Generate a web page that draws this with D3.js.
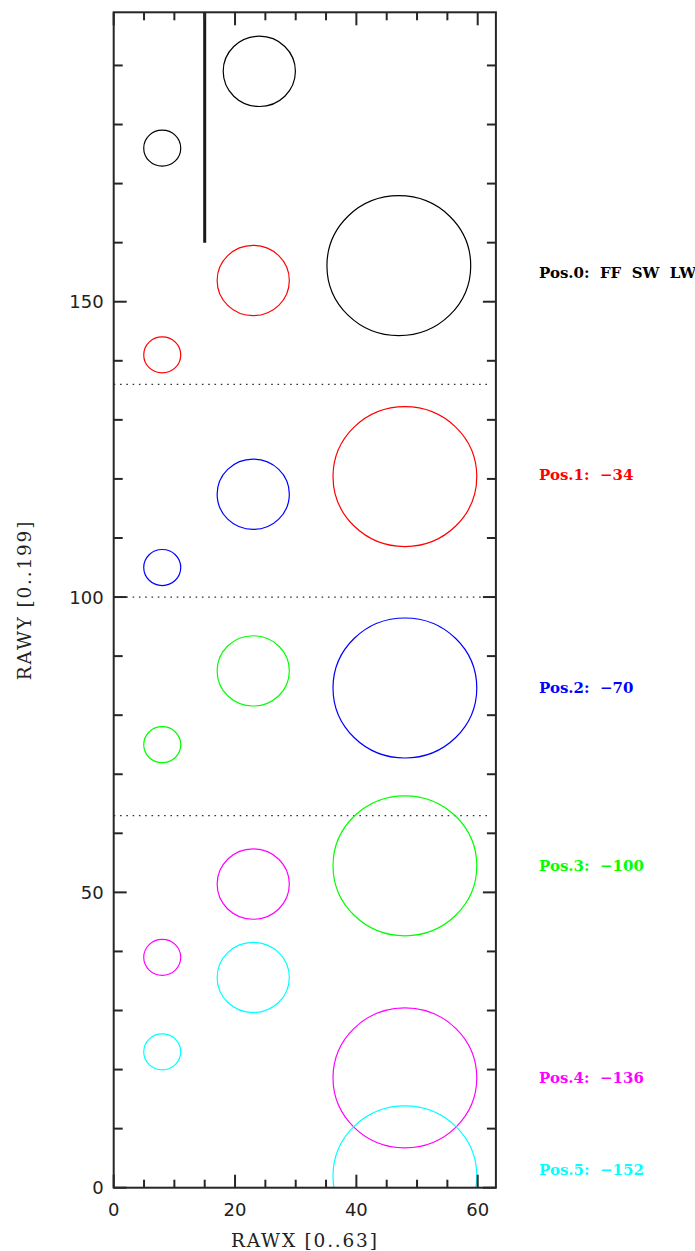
<!DOCTYPE html>
<html>
<head>
<meta charset="utf-8">
<script src="https://cdn.jsdelivr.net/npm/d3@7"></script>
<style>
  html, body { margin: 0; padding: 0; background: #fff; }
  svg { display: block; }
</style>
</head>
<body>
<svg id="chart" width="695" height="1251"></svg>
<script>
// Window positions: label, colour, and window centres (RAWX, RAWY) for each filter set
const posLabels   = ["Pos.0:  FF  SW  LW", "Pos.1:  \u221234", "Pos.2:  \u221270", "Pos.3:  \u2212100", "Pos.4:  \u2212136", "Pos.5:  \u2212152"];
const posColors   = ["#000000", "#ff0000", "#0000ff", "#00ff00", "#ff00ff", "#00ffff"];
const labelY      = [155, 120.8, 84.7, 54.6, 18.7, 3.0];

// Small window (FF)
const smallX = [8, 8, 8, 8, 8, 8];
const smallY = [176, 141, 105, 75, 39, 23];
// Medium window (SW)
const medX = [24, 23, 23, 23, 23, 23];
const medY = [189, 153.6, 117.4, 87.5, 51.4, 35.6];
// Large window (LW)
const largeX = [47, 48, 48, 48, 48, 48];
const largeY = [156.1, 120.4, 84.6, 54.5, 18.6, 2.0];
// Window radii in pixel units
const radii = [3.05, 5.95, 11.85];

// Horizontal separators and the readout marker line
const dividerY = [136, 100, 63];
const markerX = 15, markerY0 = 160, markerY1 = 199;

const xTicksMajor = [0, 20, 40, 60];
const yTicksMajor = [0, 50, 100, 150];

const svg = d3.select("#chart");
const L = 113.7, R = 495.9, T = 12.3, B = 1187.7;
const x = d3.scaleLinear().domain([0, 63]).range([L, R]);
const y = d3.scaleLinear().domain([0, 199]).range([B, T]);

const axisColor = "#262626";
const numFont = "'DejaVu Sans', sans-serif";
const textFont = "'DejaVu Serif', serif";

// clip for plot contents
svg.append("defs").append("clipPath").attr("id", "plotclip")
  .append("rect").attr("x", L).attr("y", T).attr("width", R - L).attr("height", B - T);

const plot = svg.append("g").attr("clip-path", "url(#plotclip)");

// dotted dividers
plot.selectAll("line.div").data(dividerY).enter().append("line")
  .attr("x1", L).attr("x2", R - 6)
  .attr("y1", d => y(d)).attr("y2", d => y(d))
  .attr("stroke", "#333").attr("stroke-width", 1.3)
  .attr("stroke-dasharray", "1.6,4.7");

// marker line
plot.append("line")
  .attr("x1", x(markerX)).attr("x2", x(markerX))
  .attr("y1", y(markerY1)).attr("y2", y(markerY0))
  .attr("stroke", "#1a1a1a").attr("stroke-width", 3);

// windows
const sets = [[smallX, smallY, radii[0]], [medX, medY, radii[1]], [largeX, largeY, radii[2]]];
sets.forEach(([xs, ys, r]) => {
  plot.selectAll(null).data(d3.range(xs.length)).enter().append("ellipse")
    .attr("cx", i => x(xs[i]))
    .attr("cy", i => y(ys[i]))
    .attr("rx", x(r) - x(0))
    .attr("ry", y(0) - y(r))
    .attr("fill", "none")
    .attr("stroke", i => posColors[i])
    .attr("stroke-width", 1.2);
});

// frame
svg.append("rect").attr("x", L).attr("y", T).attr("width", R - L).attr("height", B - T)
  .attr("fill", "none").attr("stroke", axisColor).attr("stroke-width", 2);

// ticks (inward, all four sides)
const tickG = svg.append("g").attr("stroke", axisColor).attr("stroke-width", 2);
d3.range(0, 64, 5).forEach(v => {
  const len = v % 20 === 0 ? 13 : 8;
  tickG.append("line").attr("x1", x(v)).attr("x2", x(v)).attr("y1", B).attr("y2", B - len);
  tickG.append("line").attr("x1", x(v)).attr("x2", x(v)).attr("y1", T).attr("y2", T + len);
});
d3.range(0, 200, 10).forEach(v => {
  const len = v % 50 === 0 ? 13 : 9;
  tickG.append("line").attr("y1", y(v)).attr("y2", y(v)).attr("x1", L).attr("x2", L + len);
  tickG.append("line").attr("y1", y(v)).attr("y2", y(v)).attr("x1", R).attr("x2", R - len);
});

// tick labels
svg.selectAll("text.xt").data(xTicksMajor).enter().append("text")
  .attr("x", d => x(d)).attr("y", B + 28)
  .attr("text-anchor", "middle")
  .attr("font-family", numFont).attr("font-size", 18).attr("fill", "#222")
  .text(d => d);
svg.selectAll("text.yt").data(yTicksMajor).enter().append("text")
  .attr("x", L - 10).attr("y", d => y(d) + 6.5)
  .attr("text-anchor", "end")
  .attr("font-family", numFont).attr("font-size", 18).attr("fill", "#222")
  .text(d => d);

// axis titles
svg.append("text")
  .attr("x", (L + R) / 2).attr("y", 1247)
  .attr("text-anchor", "middle")
  .attr("font-family", textFont).attr("font-size", 18.5).attr("fill", "#222")
  .attr("letter-spacing", 1.8)
  .text("RAWX [0..63]");
svg.append("text")
  .attr("transform", `translate(31,${(T + B) / 2}) rotate(-90)`)
  .attr("text-anchor", "middle")
  .attr("font-family", textFont).attr("font-size", 18.5).attr("fill", "#222")
  .attr("letter-spacing", 1.8)
  .text("RAWY [0..199]");

// position labels
svg.selectAll("text.pos").data(posLabels).enter().append("text")
  .attr("x", 539).attr("y", (d, i) => y(labelY[i]) + 5.5)
  .attr("font-family", textFont).attr("font-size", 15).attr("font-weight", "bold")
  .attr("fill", (d, i) => posColors[i])
  .attr("xml:space", "preserve")
  .style("white-space", "pre")
  .text(d => d);
</script>
</body>
</html>
